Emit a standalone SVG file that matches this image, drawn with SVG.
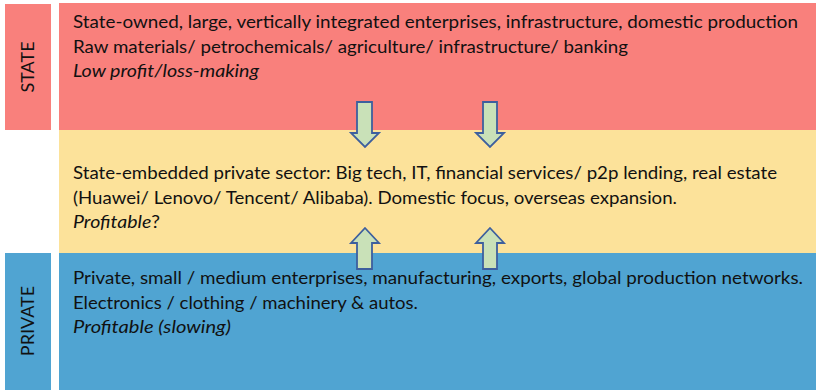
<svg xmlns="http://www.w3.org/2000/svg" width="816" height="390" viewBox="0 0 816 390">
  <style>
    .red { fill: #f9807c; }
    .yellow { fill: #fce29a; }
    .blue { fill: #50a4d2; }
    .txt { font-family: Lato, "Liberation Sans", sans-serif; font-size: 17px; fill: #111111; }
    .it { font-style: italic; }
    .side { font-family: Lato, "Liberation Sans", sans-serif; font-size: 18px; fill: #111111; text-anchor: middle; }
    .arrow { fill: #c9e1b8; stroke: #3d5f9e; stroke-width: 1.8; stroke-linejoin: miter; }
  </style>
  <rect x="0" y="0" width="816" height="390" fill="#ffffff"/>

  <!-- side labels -->
  <g id="state-label">
    <rect class="red" x="5" y="4" width="46" height="126"/>
    <text class="side" transform="translate(34,67) rotate(-90)">STATE</text>
  </g>
  <g id="private-label">
    <rect class="blue" x="5" y="253" width="46" height="137"/>
    <text class="side" transform="translate(34,321) rotate(-90)">PRIVATE</text>
  </g>

  <!-- sector bands -->
  <g id="state-band">
    <rect class="red" x="59" y="3" width="757" height="127"/>
    <text class="txt" x="73" y="28" textLength="725" lengthAdjust="spacingAndGlyphs">State-owned, large, vertically integrated enterprises, infrastructure, domestic production</text>
    <text class="txt" x="73" y="53" textLength="555" lengthAdjust="spacingAndGlyphs">Raw materials/ petrochemicals/ agriculture/ infrastructure/ banking</text>
    <text class="txt it" x="73" y="77" textLength="186" lengthAdjust="spacingAndGlyphs">Low profit/loss-making</text>
  </g>
  <g id="mixed-band">
    <rect class="yellow" x="59" y="130" width="757" height="123"/>
    <text class="txt" x="73" y="179" textLength="704" lengthAdjust="spacingAndGlyphs">State-embedded private sector: Big tech, IT, financial services/ p2p lending, real estate</text>
    <text class="txt" x="73" y="204" textLength="604" lengthAdjust="spacingAndGlyphs">(Huawei/ Lenovo/ Tencent/ Alibaba). Domestic focus, overseas expansion.</text>
    <text class="txt" x="73" y="228" textLength="87" lengthAdjust="spacingAndGlyphs"><tspan class="it">Profitable</tspan>?</text>
  </g>
  <g id="private-band">
    <rect class="blue" x="59" y="253" width="757" height="137"/>
    <text class="txt" x="73" y="284" textLength="730" lengthAdjust="spacingAndGlyphs">Private, small / medium enterprises, manufacturing, exports, global production networks.</text>
    <text class="txt" x="73" y="309" textLength="345" lengthAdjust="spacingAndGlyphs">Electronics / clothing / machinery &amp; autos.</text>
    <text class="txt it" x="73" y="333" textLength="158" lengthAdjust="spacingAndGlyphs">Profitable (slowing)</text>
  </g>

  <!-- block arrows between the sectors -->
  <g id="connectors">
    <path class="arrow" d="M357,102 H372 V133 H379 L365,147 L351,133 H357 Z"/>
    <path class="arrow" d="M483,102 H497 V133 H504 L490,147 L476,133 H483 Z"/>
    <path class="arrow" d="M365,228 L379,243 H372 V269 H357 V243 H351 Z"/>
    <path class="arrow" d="M490,228 L504,243 H497 V269 H483 V243 H476 Z"/>
  </g>
</svg>
